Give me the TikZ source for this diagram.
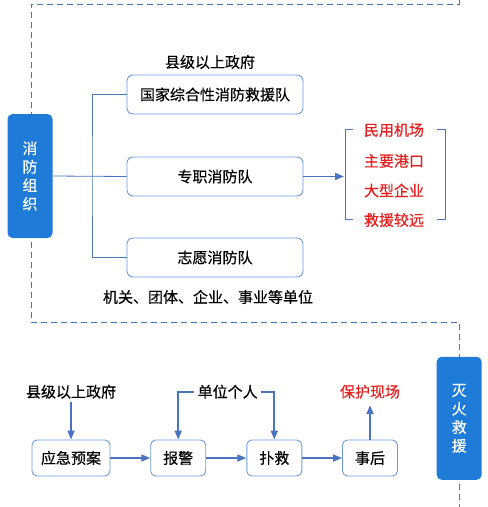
\documentclass[tikz,border=0pt]{standalone}
\usepackage{fontspec}
\setmainfont{Noto Sans CJK SC}[FakeBold=0.4]
\usetikzlibrary{arrows.meta}
\definecolor{boxblue}{HTML}{1F7BD8}
\definecolor{lineblue}{HTML}{4A74C0}
\definecolor{edgeblue}{HTML}{6C9BE0}
\definecolor{alertred}{HTML}{E41F1F}

\begin{document}
\begin{tikzpicture}[x=1pt,y=-1pt]
    \tikzstyle{frame}=[draw=lineblue,line width=0.9pt,dash pattern=on 6pt off 4pt]
    \tikzstyle{block}=[fill=boxblue,text=white,rounded corners=5pt,align=center,inner sep=0pt,font=\fontsize{15}{18.5}\selectfont]
    \tikzstyle{unit}=[draw=edgeblue,fill=white,rounded corners=6pt,line width=0.9pt,minimum width=176pt,minimum height=39pt,inner sep=0pt,text=black,font=\fontsize{15}{18}\selectfont]
    \tikzstyle{stepbox}=[draw=edgeblue,fill=white,rounded corners=5pt,line width=0.9pt,minimum height=36pt,inner sep=0pt,text=black,font=\fontsize{15}{18}\selectfont]
    \tikzstyle{label}=[font=\fontsize{15}{18}\selectfont,text=black]
    \tikzstyle{alert}=[font=\fontsize{15}{18}\selectfont,text=alertred]
    \tikzstyle{link}=[draw=lineblue,line width=0.8pt]
    \tikzstyle{flow}=[draw=lineblue,line width=1.8pt,-{Triangle[length=9pt,width=7pt]}]
    \useasboundingbox (0,0) rectangle (488,507);

    \draw[frame] (459,0) -- (459,4) -- (31,4) -- (31,322) -- (459,322) -- (459,507);

    % upper part
    \node (org)[block,minimum width=45pt,minimum height=124pt] at (30,176) {消\\防\\组\\织};
    \node (unit1)[unit] at (215,94.5) {国家综合性消防救援队};
    \node (unit2)[unit] at (215,176.5) {专职消防队};
    \node (unit3)[unit] at (215,257.5) {志愿消防队};
    \node (gov1)[label] at (210,62) {县级以上政府};
    \node (org3)[label] at (208,297) {机关、团体、企业、事业等单位};
    \coordinate (trunk) at (92,176.5);
    \path[link] (org.east) edge (unit2.west);
    \draw[link] (unit1.west) -| (trunk) |- (unit3.west);

    \node (r1)[alert] at (394,130) {民用机场};
    \node (r2)[alert] at (394,161) {主要港口};
    \node (r3)[alert] at (394,190.5) {大型企业};
    \node (r4)[alert] at (394,220) {救援较远};
    \coordinate (brk) at (344,176.5);
    \draw[link] (353,129) -- (345,129) -- (345,219) -- (353,219);
    \draw[link] (437,129) -- (445.5,129) -- (445.5,219) -- (437,219);
    \draw[flow] (unit2.east) -- (brk);

    % lower part
    \node (fight)[block,minimum width=45pt,minimum height=123pt] at (459.2,418.3) {灭\\火\\救\\援};
    \node (plan)[stepbox,minimum width=78pt] at (71,458) {应急预案};
    \node (alarm)[stepbox,minimum width=55pt] at (178.2,458) {报警};
    \node (rescue)[stepbox,minimum width=55pt] at (274.3,458) {扑救};
    \node (after)[stepbox,minimum width=55pt] at (370,458) {事后};
    \node (gov2)[label] at (71,391.7) {县级以上政府};
    \node (person)[label] at (227.7,391.7) {单位个人};
    \node (protect)[alert] at (370,391.7) {保护现场};

    \draw[flow] (gov2) -- (plan);
    \draw[flow] (plan) -- (alarm);
    \draw[flow] (alarm) -- (rescue);
    \draw[flow] (rescue) -- (after);
    \draw[flow,shorten >=3pt] (after) -- (protect);
    \draw[flow] (person.west) -| (alarm.north);
    \draw[flow] (person.east) -| (rescue.north);
\end{tikzpicture}
\end{document}
